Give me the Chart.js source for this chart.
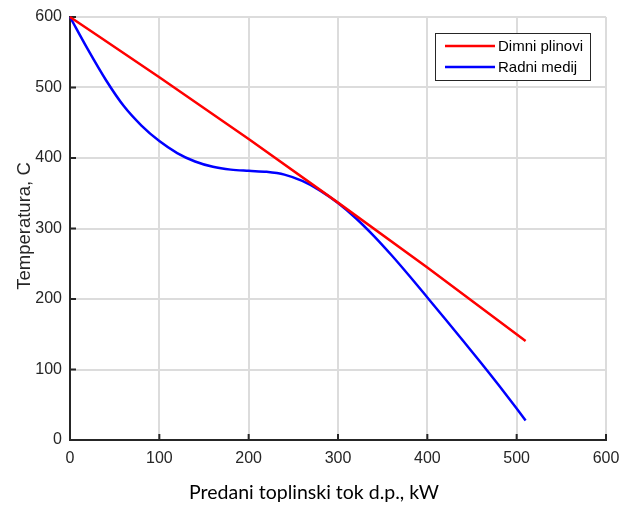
<!DOCTYPE html>
<html>
<head>
<meta charset="utf-8">
<title>Temperatura</title>
<script src="https://cdn.jsdelivr.net/npm/chart.js@4.4.0/dist/chart.umd.min.js"></script>
<style>
  body { margin: 0; background: #fff; }
</style>
</head>
<body>
<canvas id="tempChart" width="621" height="505"></canvas>
<script>
// flue gas line (red)
var gasHeat = [0, 100, 200, 300, 400, 510];
var gasTemp = [600, 514.6, 426.9, 336.7, 244.7, 140.5];

// working medium curve (blue)
var mediumHeat = [0, 20, 40, 60, 80, 100, 120, 140, 160, 180, 200, 220, 240, 260, 280, 300, 320, 340, 360, 380, 400, 420, 440, 460, 480, 500, 510];
var mediumTemp = [600, 554, 511, 474, 446, 424, 407, 395, 387.5, 383.5, 381.8, 380.4, 376.4, 367.4, 353.8, 336.2, 314.6, 289.6, 262, 232.6, 202.2, 171.6, 140.8, 109.6, 77.6, 44.6, 27.8];

var seriesNames = ["Dimni plinovi", "Radni medij"];
var xTicks = [0, 100, 200, 300, 400, 500, 600];
var yTicks = [0, 100, 200, 300, 400, 500, 600];
var xTitle = "Predani toplinski tok d.p., kW";
var yTitle = "Temperatura, C";

function toPoints(xs, ys) {
    var pts = [];
    for (var i = 0; i < xs.length; i++) {
        pts.push({ x: xs[i], y: ys[i] });
    }
    return pts;
}

var axisColor = "#262626";
var tickFont = { family: "'Liberation Sans', Arial, sans-serif", size: 16 };

// MATLAB style ticks pointing into the plot
var innerTicks = {
    id: "innerTicks",
    beforeDatasetsDraw: function (chart) {
        var ctx = chart.ctx, xs = chart.scales.x, ys = chart.scales.y, a = chart.chartArea;
        ctx.save();
        ctx.strokeStyle = axisColor;
        ctx.lineWidth = 2;
        ctx.beginPath();
        xs.ticks.forEach(function (t, i) {
            var px = xs.getPixelForTick(i);
            ctx.moveTo(px, a.bottom);
            ctx.lineTo(px, a.bottom - 6);
        });
        ys.ticks.forEach(function (t, i) {
            var py = ys.getPixelForTick(i);
            ctx.moveTo(a.left, py);
            ctx.lineTo(a.left + 6, py);
        });
        ctx.stroke();
        ctx.restore();
    }
};

// axis titles sit where the exported figure put them, not centred on the axes
var axisTitles = {
    id: "axisTitles",
    afterDraw: function (chart) {
        var ctx = chart.ctx;
        ctx.save();
        ctx.textAlign = "center";
        ctx.textBaseline = "middle";
        ctx.fillStyle = "#000";
        ctx.font = "19.5px Lato, 'Open Sans', sans-serif";
        ctx.fillText(xTitle, 314, 493);
        ctx.translate(25, 226);
        ctx.rotate(-Math.PI / 2);
        ctx.fillStyle = axisColor;
        ctx.font = "18.5px 'Liberation Sans', Arial, sans-serif";
        ctx.fillText(yTitle, 0, 0);
        ctx.restore();
    }
};

// boxed legend in the upper right corner of the axes
var legendBox = {
    id: "legendBox",
    afterDraw: function (chart) {
        var ctx = chart.ctx, a = chart.chartArea;
        var x0 = a.right - 171, y0 = a.top + 16, w = 155, h = 47;
        ctx.save();
        ctx.fillStyle = "#fff";
        ctx.fillRect(x0, y0, w, h);
        ctx.strokeStyle = axisColor;
        ctx.lineWidth = 1;
        ctx.strokeRect(x0 + 0.5, y0 + 0.5, w, h);
        ctx.font = "15px 'Liberation Sans', Arial, sans-serif";
        ctx.textBaseline = "middle";
        chart.data.datasets.forEach(function (ds, i) {
            var ly = y0 + 13 + i * 21;
            ctx.strokeStyle = ds.borderColor;
            ctx.lineWidth = 2.5;
            ctx.beginPath();
            ctx.moveTo(x0 + 10, ly);
            ctx.lineTo(x0 + 60, ly);
            ctx.stroke();
            ctx.fillStyle = "#000";
            ctx.fillText(ds.label, x0 + 63, ly + 1);
        });
        ctx.restore();
    }
};

new Chart("tempChart", {
    type: "line",
    data: {
        datasets: [{
            label: seriesNames[0],
            data: toPoints(gasHeat, gasTemp),
            borderColor: "#ff0000",
            borderWidth: 2.5,
            pointRadius: 0,
            cubicInterpolationMode: "monotone",
            clip: false
        }, {
            label: seriesNames[1],
            data: toPoints(mediumHeat, mediumTemp),
            borderColor: "#0000ff",
            borderWidth: 2.5,
            pointRadius: 0,
            cubicInterpolationMode: "monotone",
            clip: false
        }]
    },
    options: {
        responsive: false,
        animation: false,
        layout: { padding: { top: 17, right: 15, left: 0, bottom: 0 } },
        plugins: {
            legend: { display: false },
            tooltip: { enabled: false }
        },
        scales: {
            x: {
                type: "linear",
                min: xTicks[0],
                max: xTicks[xTicks.length - 1],
                afterBuildTicks: function (scale) {
                    scale.ticks = xTicks.map(function (v) { return { value: v }; });
                },
                afterFit: function (scale) {
                    scale.height = 65;
                    scale.paddingLeft = 0;
                    scale.paddingRight = 0;
                },
                ticks: { color: axisColor, font: tickFont, padding: 9, maxRotation: 0 },
                grid: { color: "#dcdcdc", lineWidth: 2, drawTicks: false },
                border: { display: true, color: axisColor, width: 2 }
            },
            y: {
                type: "linear",
                min: yTicks[0],
                max: yTicks[yTicks.length - 1],
                afterBuildTicks: function (scale) {
                    scale.ticks = yTicks.map(function (v) { return { value: v }; });
                },
                afterFit: function (scale) {
                    scale.width = 70;
                    scale.paddingTop = 0;
                    scale.paddingBottom = 0;
                },
                ticks: { color: axisColor, font: tickFont, padding: 8 },
                grid: { color: "#dcdcdc", lineWidth: 2, drawTicks: false },
                border: { display: true, color: axisColor, width: 2 }
            }
        }
    },
    plugins: [innerTicks, axisTitles, legendBox]
});
</script>
</body>
</html>
